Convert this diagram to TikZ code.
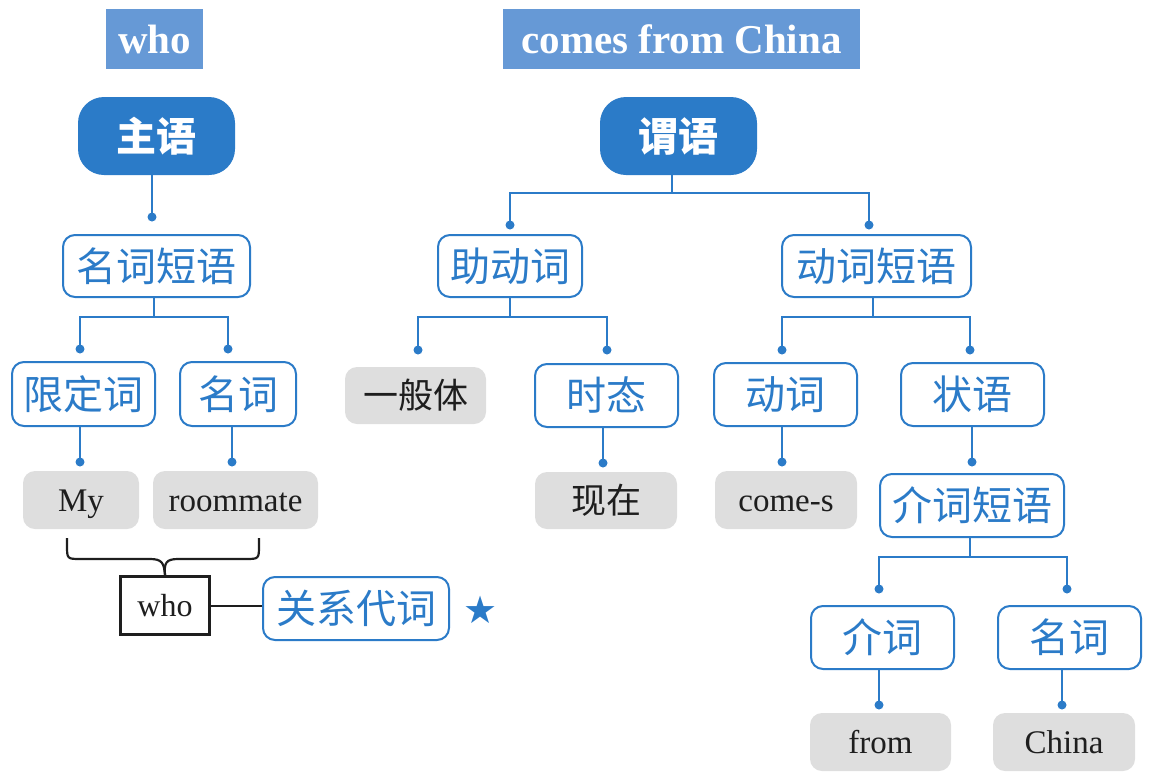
\documentclass[tikz,border=0pt]{standalone}
\usepackage{fontspec}
\setmainfont{Liberation Serif}
\newfontfamily\cjk{Noto Sans CJK SC}
\newfontfamily\sym{DejaVu Sans}
\definecolor{myblue}{RGB}{43,123,200}
\definecolor{hdrblue}{RGB}{102,153,214}
\definecolor{mygray}{RGB}{222,222,222}
\definecolor{mytext}{RGB}{30,30,30}
\begin{document}
\begin{tikzpicture}[x=1pt,y=-1pt,
  sz/.style 2 args={minimum width=#1pt, minimum height=#2pt, inner sep=0pt},
  hdr/.style={fill=hdrblue, text=white, font=\bfseries\fontsize{41}{44}\selectfont},
  mainbox/.style={fill=myblue, rounded corners=26pt, text=white, font=\cjk\bfseries\fontsize{40}{42}\selectfont},
  bluebox/.style={draw=myblue, line width=2pt, rounded corners=12pt, fill=white, text=myblue, font=\cjk\fontsize{40}{42}\selectfont},
  graybox/.style={fill=mygray, rounded corners=12pt, text=mytext, font=\fontsize{33}{36}\selectfont, text height=22pt, text depth=0pt},
  graycjk/.style={fill=mygray, rounded corners=12pt, text=mytext, font=\cjk\fontsize{35}{38}\selectfont},
  conn/.style={draw=myblue, line width=2pt},
  dot/.style={fill=myblue},
  blk/.style={draw=mytext, line width=2pt}
]
\useasboundingbox (0,0) rectangle (1149,782);

% headers
\node[hdr, sz={97}{60}] (hwho) at (154.5,39) {who};
\node[hdr, sz={357}{60}] (hcomes) at (681.5,39) {comes from China};

% left tree
\node[mainbox, sz={157}{78}] (zhuyu) at (156.5,136) {主语};
\node[bluebox, sz={187}{62}] (np) at (156.5,266) {名词短语};
\node[bluebox, sz={143}{64}] (xdc) at (83.5,394) {限定词};
\node[bluebox, sz={116}{64}] (mc1) at (238,394) {名词};
\node[graybox, sz={116}{58}] (my) at (81,500) {My};
\node[graybox, sz={165}{58}] (room) at (235.5,500) {roommate};
\node[draw=mytext, line width=3pt, text=mytext, font=\fontsize{32}{34}\selectfont, text height=22pt, text depth=0pt, sz={89}{58}] (whob) at (165,605.5) {who};
\node[bluebox, sz={186}{63}] (gx) at (356,608.5) {关系代词};
\node[text=myblue, font=\sym\fontsize{38}{40}\selectfont, inner sep=0pt] (star) at (481,610) {★};

% right tree
\node[mainbox, sz={157}{78}] (weiyu) at (678.5,136) {谓语};
\node[bluebox, sz={144}{62}] (zdc) at (510,266) {助动词};
\node[bluebox, sz={189}{62}] (dcdy) at (876.5,266) {动词短语};
\node[graycjk, sz={141}{57}] (ybt) at (415.5,395.5) {一般体};
\node[bluebox, sz={143}{63}] (st) at (606.5,395.5) {时态};
\node[graycjk, sz={142}{57}] (xz) at (606,500.5) {现在};
\node[bluebox, sz={143}{63}] (dc) at (785.5,394.5) {动词};
\node[bluebox, sz={143}{63}] (zy) at (972.5,394.5) {状语};
\node[graybox, sz={142}{58}] (comes) at (786,500) {come-s};
\node[bluebox, sz={184}{63}] (jcdy) at (972,505.5) {介词短语};
\node[bluebox, sz={143}{63}] (jc) at (882.5,637.5) {介词};
\node[bluebox, sz={143}{63}] (mc2) at (1069.5,637.5) {名词};
\node[graybox, sz={141}{58}] (from) at (880.5,742) {from};
\node[graybox, sz={142}{58}] (china) at (1064,742) {China};

% dot / junction coordinates
\coordinate (dA) at (152,217);
\coordinate (jB) at (154,317); \coordinate (dB1) at (80,349); \coordinate (dB2) at (228,349);
\coordinate (dC) at (80,462); \coordinate (dD) at (232,462);
\coordinate (jE) at (672,193); \coordinate (dE1) at (510,225); \coordinate (dE2) at (869,225);
\coordinate (jF) at (510,317); \coordinate (dF1) at (418,350); \coordinate (dF2) at (607,350);
\coordinate (dG) at (603,463);
\coordinate (jH) at (873,317); \coordinate (dH1) at (782,350); \coordinate (dH2) at (970,350);
\coordinate (dI) at (782,462); \coordinate (dJ) at (972,462);
\coordinate (jK) at (970,557); \coordinate (dK1) at (879,589); \coordinate (dK2) at (1067,589);
\coordinate (dL) at (879,705); \coordinate (dM) at (1062,705);

% connectors
\draw[conn] (zhuyu.south -| dA) -- (dA);
\draw[conn] (np.south -| jB) -- (jB);
\draw[conn] (dB1) |- (jB) -| (dB2);
\draw[conn] (xdc.south -| dC) -- (dC);
\draw[conn] (mc1.south -| dD) -- (dD);
\draw[conn] (weiyu.south -| jE) -- (jE);
\draw[conn] (dE1) |- (jE) -| (dE2);
\draw[conn] (zdc.south -| jF) -- (jF);
\draw[conn] (dF1) |- (jF) -| (dF2);
\draw[conn] (st.south -| dG) -- (dG);
\draw[conn] (dcdy.south -| jH) -- (jH);
\draw[conn] (dH1) |- (jH) -| (dH2);
\draw[conn] (dc.south -| dI) -- (dI);
\draw[conn] (zy.south -| dJ) -- (dJ);
\draw[conn] (jcdy.south -| jK) -- (jK);
\draw[conn] (dK1) |- (jK) -| (dK2);
\draw[conn] (jc.south -| dL) -- (dL);
\draw[conn] (mc2.south -| dM) -- (dM);
\foreach \d in {dA,dB1,dB2,dC,dD,dE1,dE2,dF1,dF2,dG,dH1,dH2,dI,dJ,dK1,dK2,dL,dM}
  \fill[dot] (\d) circle (4.5pt);

% who -> relative pronoun
\draw[blk] (whob.east) -- (whob.east -| gx.west);

% brace
\coordinate (bl) at (67,538); \coordinate (br) at (259,538);
\draw[blk, line width=2.2pt] (bl) -- (67,545) .. controls (67,559) and (67,559) .. (81,559) -- (150,559)
  .. controls (162,559) and (164,563) .. (whob.north);
\draw[blk, line width=2.2pt] (br) -- (259,545) .. controls (259,559) and (259,559) .. (245,559) -- (178,559)
  .. controls (166,559) and (164,563) .. (whob.north);
\end{tikzpicture}
\end{document}
